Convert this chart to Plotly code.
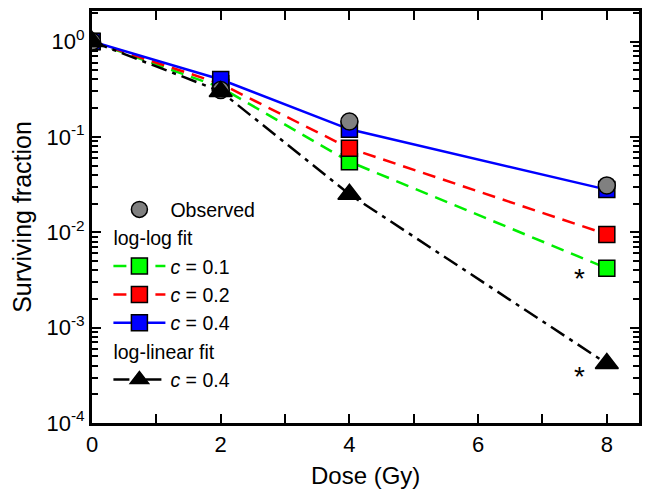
import math
import plotly.graph_objects as go

dose = [0, 2, 4, 8]
observed = [1.0, 0.31, 0.145, 0.031]
loglog_c01 = [1.0, 0.33, 0.055, 0.0042]
loglog_c02 = [1.0, 0.36, 0.076, 0.0095]
loglog_c04 = [1.0, 0.40, 0.12, 0.028]
loglin_c04 = [1.0, 0.30, 0.025, 0.00042]
star_x = [7.58, 7.58]
star_y = [0.0033, 0.00031]

ytick_vals = [1e-4, 1e-3, 1e-2, 1e-1, 1]
ytick_text = ["10<sup>-4</sup>", "10<sup>-3</sup>", "10<sup>-2</sup>", "10<sup>-1</sup>", "10<sup>0</sup>"]
y_minor = [m * 10.0 ** e for e in range(-4, 1) for m in range(2, 10)]

FONT = "Liberation Sans, Arial, sans-serif"
fig = go.Figure()

mk_line = dict(color="black", width=1.5)
fig.add_trace(go.Scatter(x=dose, y=loglog_c01, mode="lines+markers", name="<i>c</i> = 0.1",
                         line=dict(color="#00ee00", width=2.5, dash="13px,8px"),
                         marker=dict(symbol="square", size=16, color="#00ff00", line=mk_line),
                         legendgroup="ll", legendgrouptitle=dict(text="log-log fit"), legendrank=2))
fig.add_trace(go.Scatter(x=dose, y=loglog_c02, mode="lines+markers", name="<i>c</i> = 0.2",
                         line=dict(color="#ff0000", width=2.5, dash="13px,8px"),
                         marker=dict(symbol="square", size=16, color="#ff0000", line=mk_line),
                         legendgroup="ll", legendrank=3))
fig.add_trace(go.Scatter(x=dose, y=loglog_c04, mode="lines+markers", name="<i>c</i> = 0.4",
                         line=dict(color="#0000ff", width=2.5),
                         marker=dict(symbol="square", size=16, color="#0000ff", line=mk_line),
                         legendgroup="ll", legendrank=4))
fig.add_trace(go.Scatter(x=dose, y=observed, mode="markers", name="Observed",
                         marker=dict(symbol="circle", size=17, color="#808080", line=mk_line),
                         legendgroup="obs", legendrank=1))
fig.add_trace(go.Scatter(x=dose, y=loglin_c04, mode="lines+markers", name="<i>c</i> = 0.4",
                         line=dict(color="black", width=2.5, dash="16px,6px,4px,6px"),
                         marker=dict(symbol="triangle-up", size=20, color="black", line=mk_line),
                         legendgroup="lin", legendgrouptitle=dict(text="log-linear fit"), legendrank=5))
# empty trace so the minor-tick overlay axis is drawn
fig.add_trace(go.Scatter(x=[], y=[], yaxis="y2", showlegend=False, hoverinfo="skip"))

for sx, sy in zip(star_x, star_y):
    fig.add_annotation(x=sx, y=math.log10(sy), text="*", showarrow=False, yref="y", xref="x",
                       font=dict(size=28, color="black", family=FONT))

# x-axis title placed as a paper annotation
fig.add_annotation(x=0.5, y=-0.127, xref="paper", yref="paper", text="Dose (Gy)", showarrow=False,
                   xanchor="center", yanchor="middle", font=dict(size=24, color="black", family=FONT))

axis_common = dict(showline=True, linecolor="black", linewidth=3, mirror="allticks",
                   ticks="inside", tickwidth=2, tickcolor="black", showgrid=False, zeroline=False,
                   tickfont=dict(size=22, color="black", family=FONT))

fig.update_xaxes(range=[0, 8.5], tickvals=[0, 2, 4, 6, 8], ticklen=9,
                 minor=dict(tickvals=[1, 3, 5, 7], ticks="inside", ticklen=6, tickwidth=2, tickcolor="black"),
                 **axis_common)
fig.update_yaxes(type="log", range=[-4, 0.32], tickvals=ytick_vals, ticktext=ytick_text, ticklen=9,
                 title=dict(text="Surviving fraction", font=dict(size=25, color="black", family=FONT), standoff=8),
                 **axis_common)

fig.update_layout(width=650, height=490, margin=dict(l=92, r=8, t=11, b=67),
                  plot_bgcolor="white", paper_bgcolor="white",
                  font=dict(family=FONT, color="black"),
                  yaxis2=dict(overlaying="y", side="left", type="log", range=[-4, 0.32],
                              tickvals=y_minor, showticklabels=False, ticks="inside", ticklen=6,
                              tickwidth=1.5, tickcolor="black", mirror="allticks", showline=True,
                              linecolor="black", linewidth=3, showgrid=False, zeroline=False),
                  legend=dict(x=0.03, y=0.565, xanchor="left", yanchor="top", bgcolor="rgba(0,0,0,0)",
                              font=dict(size=19.5, family=FONT), tracegroupgap=0, itemwidth=52,
                              grouptitlefont=dict(size=19.5, family=FONT)),
                  showlegend=True)

fig.write_html("out.html")
